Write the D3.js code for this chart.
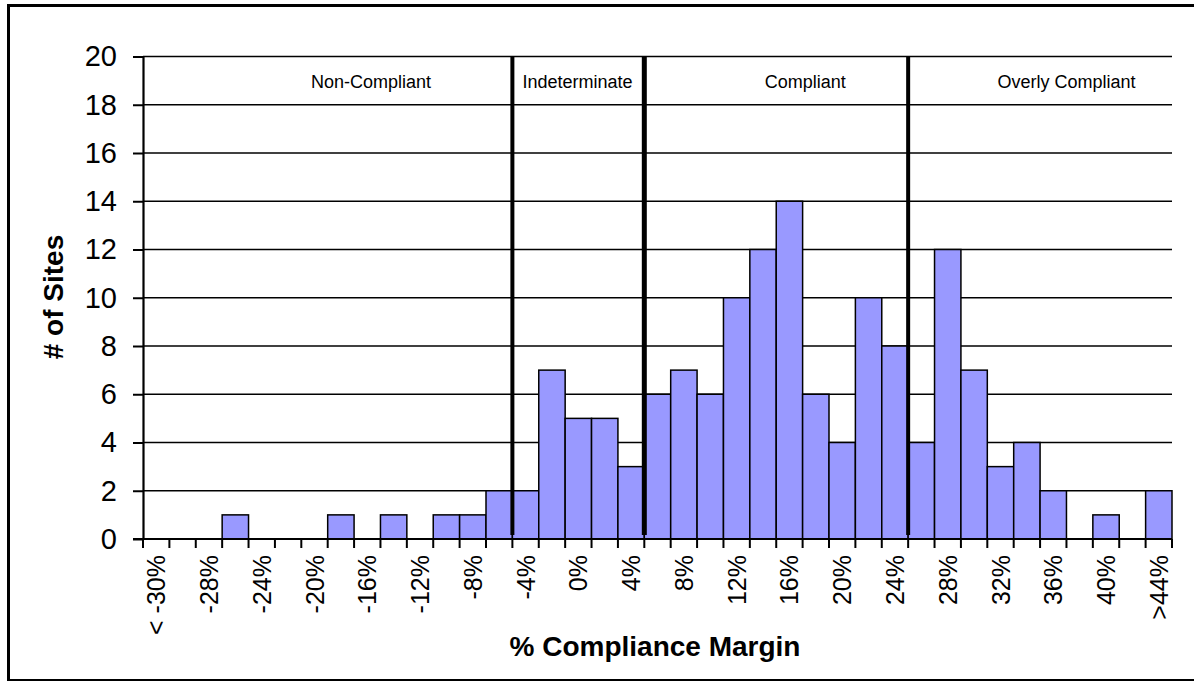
<!DOCTYPE html>
<html><head><meta charset="utf-8">
<script src="https://cdn.jsdelivr.net/npm/d3@7"></script>
<style>
body{margin:0;background:#fff}
svg{display:block}
text{font-family:"Liberation Sans",Arial,Helvetica,sans-serif;fill:#000}
</style>
</head><body>
<svg id="chart" width="1194" height="681"></svg>
<script>
// ---- data ----
const categories = ["< -30%","-30%","-28%","-26%","-24%","-22%","-20%","-18%","-16%","-14%",
  "-12%","-10%","-8%","-6%","-4%","-2%","0%","2%","4%","6%",
  "8%","10%","12%","14%","16%","18%","20%","22%","24%","26%",
  "28%","30%","32%","34%","36%","38%","40%","42%",">44%"];
const sites = [0,0,0,1,0,0,0,1,0,1,
  0,1,1,2,2,7,5,5,3,6,
  7,6,10,12,14,6,4,10,8,4,
  12,7,3,4,2,0,1,0,2];
const yTicks = [0,2,4,6,8,10,12,14,16,18,20];
const zoneBoundaryCats = ["-4%","6%","26%"];      // zone lines at left edge of these bins
const zoneLineWeights = [4,5,4];
const zoneNames = ["Non-Compliant","Indeterminate","Compliant","Overly Compliant"];
const zoneNamePos = [8.64,16.47,25.1,35.0];       // in category-index units
const yTitle = "# of Sites";
const xTitle = "% Compliance Margin";

// ---- layout ----
(function(){
const svg = d3.select("#chart");
const pL = 143, pR = 1172, pT = 56.5, pB = 539;

const x = d3.scaleBand().domain(categories).range([pL, pR]).paddingInner(0).paddingOuter(0);
const y = d3.scaleLinear().domain([0, 20]).range([pB, pT]);
const bw = x.bandwidth();

// outer frame
svg.append("rect").attr("x",8.5).attr("y",5.5).attr("width",1187).attr("height",675)
  .attr("fill","none").attr("stroke","#000").attr("stroke-width",3);

// gridlines
svg.append("g").selectAll("line").data(yTicks.filter(d=>d>0)).join("line")
  .attr("x1",pL).attr("x2",pR).attr("y1",d=>y(d)).attr("y2",d=>y(d))
  .attr("stroke","#000").attr("stroke-width",1.3);

// bars
svg.append("g").selectAll("rect").data(sites.map((v,i)=>({c:categories[i],v})).filter(d=>d.v>0)).join("rect")
  .attr("x",d=>x(d.c)).attr("width",bw)
  .attr("y",d=>y(d.v)).attr("height",d=>y(0)-y(d.v))
  .attr("fill","#9999FF").attr("stroke","#000").attr("stroke-width",1.5);

// zone boundary lines
svg.append("g").selectAll("line").data(zoneBoundaryCats).join("line")
  .attr("x1",d=>x(d)).attr("x2",d=>x(d))
  .attr("y1",y(20)).attr("y2",y(0)-4)
  .attr("stroke","#000").attr("stroke-width",(d,i)=>zoneLineWeights[i]);

// zone labels
svg.append("g").selectAll("text").data(zoneNames).join("text")
  .attr("x",(d,i)=>pL + zoneNamePos[i]*bw)
  .attr("y",87.5)
  .attr("text-anchor","middle").attr("font-size",18).text(d=>d);

// y axis
const yAxis = d3.axisLeft(y).tickValues(yTicks).tickSize(10).tickPadding(16).tickSizeOuter(0);
const gy = svg.append("g").attr("transform",`translate(${pL},0)`).call(yAxis);
gy.select(".domain").attr("stroke","#000").attr("stroke-width",2.2);
gy.selectAll(".tick line").attr("stroke","#000").attr("stroke-width",2);
gy.selectAll(".tick text").attr("font-size",29).attr("fill","#000")
  .attr("font-family","'Liberation Sans',Arial,sans-serif");

// x axis (line + boundary ticks)
svg.append("line").attr("x1",pL-10).attr("x2",pR).attr("y1",y(0)).attr("y2",y(0))
  .attr("stroke","#000").attr("stroke-width",2.2);
const boundaries = categories.map(c=>x(c)).concat([x(categories[categories.length-1])+bw]);
svg.append("g").selectAll("line").data(boundaries).join("line")
  .attr("x1",d=>d).attr("x2",d=>d).attr("y1",y(0)).attr("y2",y(0)+9)
  .attr("stroke","#000").attr("stroke-width",2);

// x tick labels (every other category)
const shown = categories.filter((c,i)=>i%2===0);
svg.append("g").selectAll("text").data(shown).join("text")
  .attr("transform",d=>`translate(${x(d)+bw/2},555) rotate(-90)`)
  .attr("text-anchor","end").attr("dy","0.36em")
  .attr("font-size",25).text(d=>d);

// axis titles
svg.append("text").attr("transform","translate(53,297) rotate(-90)")
  .attr("text-anchor","middle").attr("dy","0.36em")
  .attr("font-size",28).attr("font-weight","bold").text(yTitle);
svg.append("text").attr("x",655).attr("y",656)
  .attr("text-anchor","middle")
  .attr("font-size",28).attr("font-weight","bold").text(xTitle);
})();
</script>
</body></html>
